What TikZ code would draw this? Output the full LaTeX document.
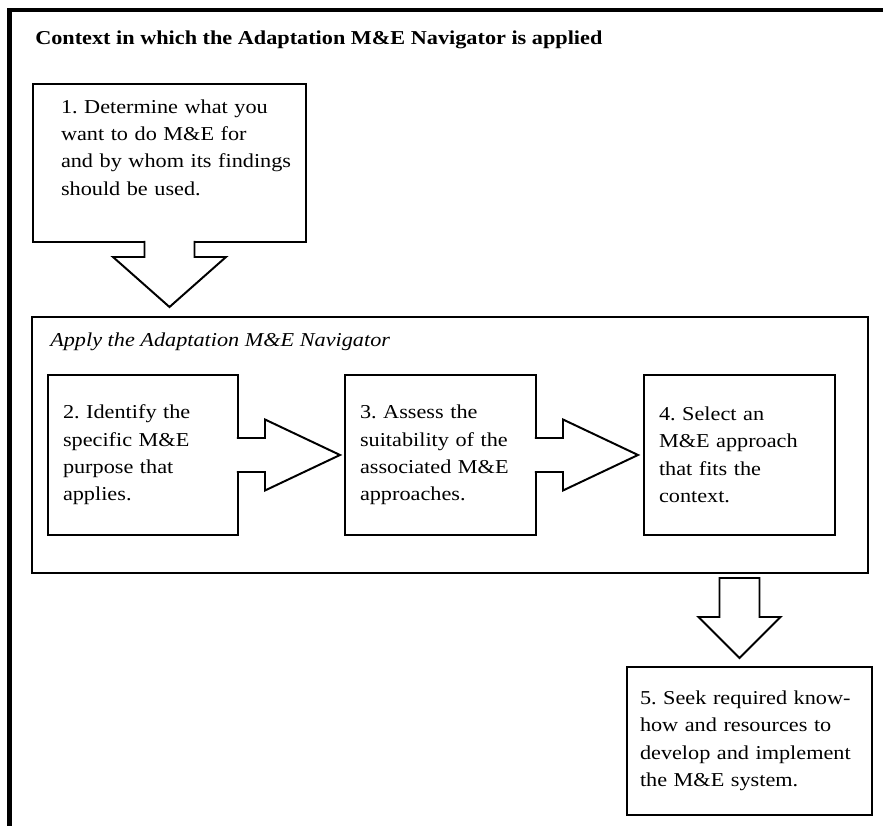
\documentclass[tikz,border=0pt]{standalone}
\usepackage{fontspec}
\setmainfont{Liberation Serif}[FakeStretch=1.13]
\usetikzlibrary{calc,positioning}
\newcommand\steptext{\fontsize{14}{19.5}\selectfont\frenchspacing}
\tikzset{stepbox/.style={draw, line width=1.4pt, rectangle, anchor=north west, outer sep=0pt, align=left, inner ysep=0pt, font=\steptext}}
\tikzset{blockarrow/.style={draw, line width=1.4pt, fill=white, line join=miter}}

\begin{document}
\begin{tikzpicture}
      \useasboundingbox (0,0) rectangle (22.075,20.65);
      \draw[line width=2.85pt] (0.2375,0) -- (0.2375,20.4) -- (22.075,20.4);
      \node[anchor=base west, inner sep=0pt, font=\steptext\bfseries] (context) at (0.875,19.525) {Context in which the Adaptation M\&E Navigator is applied};
      \node[stepbox, minimum width=6.825cm, minimum height=3.95cm, text width=5.425cm, inner xsep=0.7cm, text depth=80.7pt] (b1) at (0.825,18.55) {1. Determine what you\\ want to do M\&E for\\ \mbox{and by whom its findings}\\ should be used.};
      \node[draw, line width=1.4pt, anchor=north west, outer sep=0pt, minimum width=20.9cm, minimum height=6.4cm] (nav) at (0.8,12.725) {};
      \node[anchor=base west, inner sep=0pt, font=\steptext\itshape] (navtitle) at ($(nav.north west)+(0.45,-0.75)$) {Apply the Adaptation M\&E Navigator};
      \node[stepbox, minimum width=4.75cm, minimum height=4cm, text width=4cm, inner xsep=0.375cm] (b2) at (1.2,11.275) {2. Identify the\\ specific M\&E\\ purpose that\\ applies.};
      \node[stepbox, minimum width=4.775cm, minimum height=4cm, text width=4.025cm, inner xsep=0.375cm] (b3) at (8.625,11.275) {3. Assess the\\ suitability of the\\ associated M\&E\\ approaches.};
      \node[stepbox, minimum width=4.775cm, minimum height=4cm, text width=4.025cm, inner xsep=0.375cm] (b4) at (16.1,11.275) {4. Select an\\ M\&E approach\\ that fits the\\ context.};
      \node[stepbox, minimum width=6.125cm, minimum height=3.7cm, text width=5.475cm, inner xsep=0.325cm] (b5) at (15.675,3.975) {5. Seek required know-\\ how and resources to\\ develop and implement\\ the M\&E system.};
      % block arrows
      \draw[blockarrow] ($(b1.south)+(-0.625,0.03)$) -- ++(0,-0.405) -- ++(-0.7875,0) -- ++(1.4125,-1.25) -- ++(1.4125,1.25) -- ++(-0.7875,0) -- ++(0,0.405);
      \draw[blockarrow] ($(b2.east)+(-0.03,0.425)$) -- ++(0.705,0) -- ++(0,0.4625) -- ++(1.875,-0.8875) -- ++(-1.875,-0.8875) -- ++(0,0.4625) -- ++(-0.705,0);
      \draw[blockarrow] ($(b3.east)+(-0.03,0.425)$) -- ++(0.705,0) -- ++(0,0.4625) -- ++(1.875,-0.8875) -- ++(-1.875,-0.8875) -- ++(0,0.4625) -- ++(-0.705,0);
      \draw[blockarrow] ($(b4.south |- nav.south)+(-0.5,-0.125)$) -- ++(0,-0.975) -- ++(-0.525,0) -- ++(1.025,-1.025) -- ++(1.025,1.025) -- ++(-0.525,0) -- ++(0,0.975) -- cycle;
    \end{tikzpicture}
\end{document}
